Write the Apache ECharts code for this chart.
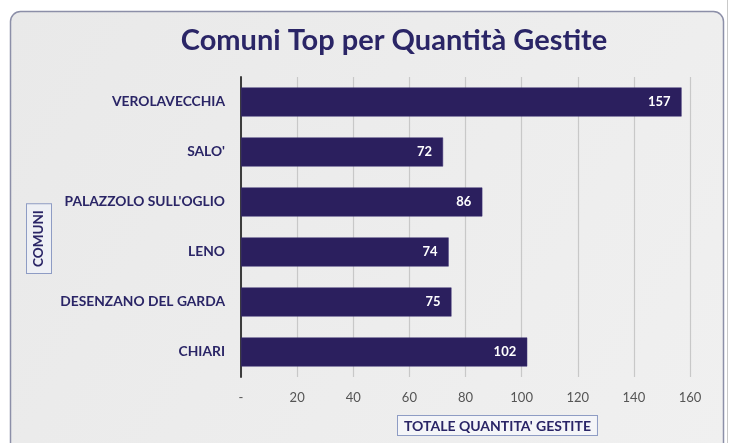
<!DOCTYPE html>
<html>
<head>
<meta charset="utf-8">
<script src="https://cdn.jsdelivr.net/npm/echarts@6/dist/echarts.min.js"></script>
<style>
  html, body { margin: 0; padding: 0; background: #ffffff; }
  #chart { width: 731px; height: 443px; }
</style>
</head>
<body>
<div id="chart"></div>
<script>
const comuni = [
  "VEROLAVECCHIA",
  "SALO'",
  "PALAZZOLO SULL'OGLIO",
  "LENO",
  "DESENZANO DEL GARDA",
  "CHIARI"
];
const quantita = [157, 72, 86, 74, 75, 102];
const titolo = "Comuni Top per Quantità Gestite";
const nomeAsseX = "TOTALE QUANTITA' GESTITE";
const nomeAsseY = "COMUNI";

const navy = "#2a2566";
const barColor = "#2b1f5e";
const font = "Lato, 'Open Sans', sans-serif";

const chart = echarts.init(document.getElementById("chart"), null, { renderer: "canvas" });

chart.setOption({
  backgroundColor: "#ffffff",
  animation: false,
  title: {
    text: titolo,
    left: 389,
    top: 21,
    textAlign: "center",
    textStyle: {
      fontFamily: font,
      fontSize: 29,
      fontWeight: "bold",
      color: navy
    }
  },
  graphic: [
    {
      type: "rect",
      z: -10,
      silent: true,
      shape: { x: 10.5, y: 11.5, width: 713, height: 440, r: [10, 10, 0, 0] },
      style: {
        fill: new echarts.graphic.LinearGradient(0, 0, 1, 1, [
          { offset: 0, color: "#e9e9e9" },
          { offset: 1, color: "#f0f0f0" }
        ]),
        stroke: "#8c8fa8",
        lineWidth: 1.5
      }
    },
    {
      type: "line",
      z: -10,
      silent: true,
      shape: { x1: 727.5, y1: 0, x2: 727.5, y2: 443 },
      style: { stroke: "#c9c9c9", lineWidth: 1 }
    },
    {
      type: "text",
      left: 397,
      top: 415,
      style: {
        text: nomeAsseX,
        fontFamily: font,
        fontSize: 14,
        fontWeight: "bold",
        fill: navy,
        backgroundColor: "#f4f5f8",
        borderColor: "#8e9cc4",
        borderWidth: 1,
        padding: [3, 6, 2, 6]
      }
    },
    {
      type: "text",
      rotation: Math.PI / 2,
      x: 27,
      y: 273,
      style: {
        text: nomeAsseY,
        fontFamily: font,
        fontSize: 13.5,
        fontWeight: "bold",
        fill: navy,
        backgroundColor: "#eef0f5",
        borderColor: "#8e9cc4",
        borderWidth: 1,
        padding: [5, 6, 5, 6],
        verticalAlign: "top",
        align: "left"
      }
    }
  ],
  grid: {
    left: 241,
    right: 41,
    top: 77,
    bottom: 66
  },
  xAxis: {
    type: "value",
    min: 0,
    max: 160,
    interval: 20,
    axisLine: { show: false },
    axisTick: { show: false },
    splitLine: { show: true, lineStyle: { color: "#c8c8c8", width: 1.2 } },
    axisLabel: {
      margin: 14,
      fontFamily: font,
      fontSize: 13,
      color: "#555555",
      formatter: (v) => (v === 0 ? "-" : String(v))
    }
  },
  yAxis: {
    type: "category",
    data: comuni,
    inverse: true,
    axisLine: { show: true, lineStyle: { color: "#3c3c3c", width: 2 } },
    axisTick: { show: false },
    splitLine: { show: false },
    axisLabel: {
      margin: 16,
      fontFamily: font,
      fontSize: 13.8,
      fontWeight: "bold",
      color: navy
    }
  },
  series: [
    {
      type: "bar",
      data: quantita,
      barCategoryGap: "42%",
      itemStyle: { color: barColor, borderColor: "#3a2f72", borderWidth: 0.5 },
      label: {
        show: true,
        position: "insideRight",
        distance: 11,
        fontFamily: font,
        fontSize: 13,
        fontWeight: "bold",
        color: "#ffffff"
      },
      emphasis: { disabled: true }
    }
  ]
});
</script>
</body>
</html>
